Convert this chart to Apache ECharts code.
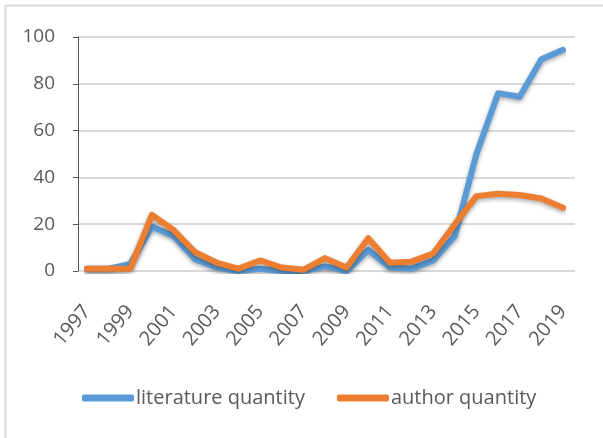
<!DOCTYPE html>
<html>
<head>
<meta charset="utf-8">
<script src="https://cdn.jsdelivr.net/npm/echarts@6/dist/echarts.min.js"></script>
<style>
  html, body { margin: 0; padding: 0; background: #fff; }
  #chart { width: 603px; height: 438px; }
</style>
</head>
<body>
<div id="chart"></div>
<script>
// years on the x axis
const years = ['1997','1998','1999','2000','2001','2002','2003','2004','2005','2006','2007','2008',
  '2009','2010','2011','2012','2013','2014','2015','2016','2017','2018','2019']
// values
const literature = [1, 1, 3, 19, 15, 5, 1.5, 0, 1, 0, 0, 2, 0, 9, 1.5, 1, 4.5, 15, 50, 76, 74.5, 90.5, 94.5]
const authors = [1, 1, 1, 24, 17.5, 8, 3.5, 1, 4.5, 1.5, 0.5, 5.5, 1.5, 14, 3.5, 4, 7.5, 20, 32, 33, 32.5, 31, 27]
const seriesNames = ['literature quantity', 'author quantity']
const colors = ['#5B9BD5', '#ED7D31']

const chart = echarts.init(document.getElementById('chart'))
const font = 'Open Sans'

const lineSeries = (name, data, color) => ({
  name,
  type: 'line',
  data,
  showSymbol: false,
  animation: false,
  z: 3,
  lineStyle: {
    width: 6,
    color,
    cap: 'round',
    join: 'round',
    shadowColor: 'rgba(0,0,0,0.35)',
    shadowBlur: 4,
    shadowOffsetY: 2
  },
  itemStyle: { color }
})

chart.setOption({
  animation: false,
  graphic: [{
    type: 'rect',
    shape: { x: 5.5, y: 5.5, width: 620, height: 460 },
    style: { fill: 'none', stroke: '#d9d9d9', lineWidth: 2 }
  }],
  // grid 0 holds the data, grid 1 only draws the wider gridlines
  grid: [
    { left: 87, right: 40, top: 37, bottom: 167 },
    { left: 78, right: 28, top: 37, bottom: 167 }
  ],
  legend: {
    bottom: 25,
    left: 77,
    icon: 'roundRect',
    itemWidth: 52,
    itemHeight: 7,
    itemGap: 32,
    textStyle: { fontFamily: font, fontSize: 20, color: '#595959', padding: [0, 0, 0, -3] },
    data: seriesNames
  },
  xAxis: [{
    type: 'category',
    gridIndex: 0,
    data: years,
    boundaryGap: false,
    axisLine: { show: false },
    axisTick: { show: false },
    axisLabel: {
      interval: 1,
      rotate: 50,
      margin: 37,
      fontFamily: font,
      fontSize: 20,
      color: '#595959'
    }
  }, {
    type: 'value',
    gridIndex: 1,
    show: false
  }],
  yAxis: [{
    type: 'value',
    gridIndex: 0,
    min: 0,
    max: 100,
    interval: 20,
    axisLabel: { margin: 32, fontFamily: font, fontSize: 19, color: '#595959' },
    splitLine: { show: false }
  }, {
    type: 'value',
    gridIndex: 1,
    min: 0,
    max: 100,
    interval: 20,
    axisLabel: { show: false },
    splitLine: { lineStyle: { color: '#d9d9d9', width: 2 } }
  }],
  series: [
    lineSeries(seriesNames[0], literature, colors[0]),
    lineSeries(seriesNames[1], authors, colors[1])
  ]
})
</script>
</body>
</html>
